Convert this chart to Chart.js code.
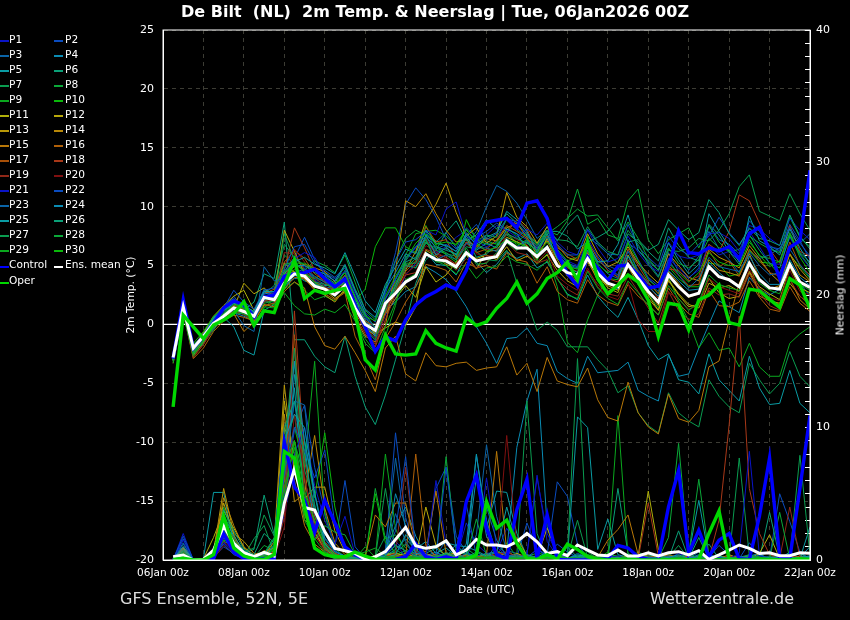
<!DOCTYPE html>
<html>
<head>
<meta charset="utf-8">
<title>De Bilt 2m Temp. & Neerslag</title>
<script src="https://cdn.jsdelivr.net/npm/chart.js@4"></script>
<style>
    body { margin: 0; background: #000; width: 850px; height: 620px; overflow: hidden; font-family: "DejaVu Sans", sans-serif; color: #fff; }
    canvas { position: absolute; left: 0; top: 0; }
    .txt { position: absolute; white-space: pre; }
    #title { left: 0; width: 870px; top: 2px; text-align: center; font-size: 16px; font-weight: bold; }
    #footLeft { left: 120px; top: 589px; font-size: 16px; color: #ddd; }
    #footRight { left: 650px; top: 589px; font-size: 16px; color: #ddd; }
    #rightTitle { left: 840px; top: 295px; font-size: 10.8px; transform: translate(-50%, -50%) rotate(-90deg); }
    .key { position: absolute; width: 9px; height: 2px; }
    .keyText { position: absolute; font-size: 10.6px; white-space: pre; }
</style>
</head>
<body>
<canvas id="chart" width="850" height="620"></canvas>
<div class="txt" id="title">De Bilt  (NL)  2m Temp. &amp; Neerslag | Tue, 06Jan2026 00Z</div>
<div class="txt" id="footLeft">GFS Ensemble, 52N, 5E</div>
<div class="txt" id="footRight">Wetterzentrale.de</div>
<div class="txt" id="rightTitle">Neerslag (mm)</div>
<div id="legend"></div>
<script>
// forecast hours, one point every 6 hours
const hours = [6,12,18,24,30,36,42,48,54,60,66,72,78,84,90,96,
    102,108,114,120,126,132,138,144,150,156,162,168,174,180,186,192,
    198,204,210,216,222,228,234,240,246,252,258,264,270,276,282,288,
    294,300,306,312,318,324,330,336,342,348,354,360,366,372,378,384];
const tickLabels = ['06Jan 00z','','08Jan 00z','','10Jan 00z','','12Jan 00z','','14Jan 00z','','16Jan 00z','','18Jan 00z','','20Jan 00z','','22Jan 00z'];
const zeroLine = [0, 0];
const zeroHours = [0, 384];

// 2m temperature, ensemble members
const tP1 = [-2.9,1.8,-2.1,-1.2,.2,1,1.8,1,.4,2.5,2.4,4,5,4.9,3.8,3.1,
    2.8,3.9,1.6,-.3,-1.4,.8,2.2,4.2,5.2,7,6.1,6.6,7.4,8,7.1,6.6,
    7,9.1,8.2,7.4,6.4,7.2,6,5.4,5,7.3,5.8,4.6,4.1,6.3,5.2,3.9,
    3.1,5.6,4.8,4,4.6,6.8,5.9,6.2,5.4,7.9,6.6,5.2,5.1,7.4,5.9,4.8];
const tP2 = [-2.8,2,-2.3,-1.4,-.2,1.3,2.4,1.3,.9,3,2.6,4.2,5.6,7.4,5.5,4.2,
    3.7,4.4,2.2,.6,-.6,2.9,6.1,10.2,11.6,10.6,9.1,7.2,6.4,8.2,7.4,7.9,
    8.6,8.1,7.7,7.2,6,7.7,6.3,5.2,4.9,6.9,5.7,5,4.6,7.2,5.5,4,
    3.3,6.1,4.5,3.9,4.8,8.4,7.2,6.8,6,8.8,7.9,6.7,6.2,8.5,7.1,5.5];
const tP3 = [-3,1.6,-1.9,-.8,.6,1.5,2.2,1.4,.2,2.2,2,3.6,4.1,4.5,3.9,3.4,
    3.2,3.7,1.2,-.5,-1.1,1.5,3.8,5.4,6.6,7.5,7,7.8,6.5,6.8,7.9,10,
    11.8,11.3,10.3,8.9,7.3,8,6.1,5,4.7,6.8,5.4,4.8,4.2,6.9,6.3,5.3,
    4.1,6.4,5.9,4.6,5.8,7.9,6.4,5.5,4.4,6.2,5.6,5.9,6.5,7.6,6.9,7.7];
const tP4 = [-2.9,1.7,-2.2,-1.5,-.1,.5,1,.7,.3,2,1.9,3.3,3.9,4,3.4,3.2,
    3,3.6,1.9,.4,-.9,1.2,1.9,2.8,3.2,4.9,4.4,3.8,2.8,1.5,-.2,-1.6,
    -3.3,-1.2,-1.1,-.3,-1.6,-1.8,-4,-4.6,-5,-2.7,-4.1,-4,-3.9,-3.2,-5.6,-6.1,
    -6.5,-2.6,-4.4,-4.2,-2,0,2,1.5,1,4,3,2.5,3,5,3.5,2.4];
const tP5 = [-2.7,1.4,-1.8,-1.3,-.4,.6,-.2,-2.2,-2.6,1.2,1.7,3,4.2,3.7,3.4,3.3,
    3.4,3.9,2.4,-.2,-1,1.1,3.3,5,4.8,6.2,5.1,5,4.2,5.9,5.3,4.4,
    5.1,6.2,5.6,6,4.8,5.3,3.9,2.6,2.1,4.2,2.4,1.4,.6,2.3,.4,-1.8,
    -3,-2.5,-4.7,-4.9,-5.9,-2.5,-4.7,-5.6,-6.5,-2.7,-5.4,-6.8,-6.7,-3.9,-6.7,-7.5];
const tP6 = [-3.1,1.2,-2.5,-1.1,.4,1.2,1.6,1.2,1.9,4.3,3.9,8.7,-1.3,-1.3,-2.7,-3.6,
    -4.1,-1,-4.4,-7,-8.5,-6,-3,0,3.5,5.5,6.3,7.8,8.8,7.1,7.6,8.9,
    8.1,9.4,8.6,7.7,6.9,8.3,7.1,8.4,9.3,7.4,6.8,6,5.2,7.7,7,6.2,
    5.4,8.2,6.7,5.7,5.4,8.5,7.6,6.2,5.1,7.6,6.3,5.2,4.8,7.5,6.1,5.3];
const tP7 = [-3,1.5,-2.6,-1.6,-.5,.9,2.1,1.5,.8,2.6,3.3,6.8,5.7,4.7,4,3.6,
    3,4.6,2.4,.8,-.9,1,3,5.1,4.8,7,6.3,6,5.8,7.3,6.2,5.5,
    5.4,6.3,3.5,2,-.5,.2,-.5,-1.9,-1.9,-1.9,-3,-3.9,-5.8,-5.2,-7.5,-8.6,
    -9.2,-5.8,-7.5,-8.2,-8.7,-4.7,-6.1,-7,-7.5,-3.3,-4.7,-5.9,-5,-2.3,-4.4,-5.3];
const tP8 = [-2.9,1.5,-2.1,-1.6,.1,1.1,1.9,1.6,1.1,2.9,2.6,5.9,5.1,4.6,5.4,5,
    4.4,5.9,3.6,1.2,.4,3.1,5.5,7.3,8,7.6,7.1,6.6,5.7,7.8,6.7,7.1,
    6.8,7.6,7,7.7,6.8,8,7.6,8.8,11.5,8.5,9,7.6,7.3,10.5,11.5,7.2,
    6,7.2,7.7,8.2,6.5,8.4,7,6.1,6.4,7.5,6.9,6.4,6.1,9.1,7.4,6.6];
const tP9 = [-3.2,1.1,-2.4,-1.4,.3,.9,1.7,1.5,-.3,1.4,2.2,3,3.6,2.9,2.1,2.4,
    2,3,.4,-1.6,-2.4,-1,1.6,5.9,7.7,7.9,8,7.5,6.7,8,7.1,7.6,
    7,8.3,7.5,6.7,5.1,6,3.2,-1.5,-2.4,.4,2.5,4,4.8,7,4.2,2.6,
    1.4,4,2,.3,-2,-.7,-2.2,-2,-3.6,-1.6,-3.6,-4.4,-4.4,-1.6,-.8,-.2];
const tP10 = [-2.8,1.4,-1.7,-.9,.5,.8,1.3,.9,.1,2.2,1.6,3.4,4.7,4.2,3.9,4.4,
    3.9,3.1,2,3,6.6,8.2,8.2,6.6,6.1,8.4,6.7,5.9,5.3,8.9,7.2,6.8,
    6.9,7.9,6.7,7.2,5.4,7.4,6.4,5.4,5.7,7.1,5,3.9,3.8,5.9,4.4,3.5,
    2.6,4.9,3.9,3.2,3.2,5.2,5.1,4.1,4.3,6.3,5.3,5.2,4.2,5.9,4.9,3.9];
const tP11 = [-2.8,1.5,-1.9,-.7,.7,1.6,2.4,2.9,1.2,2.8,2.5,8,6.2,4.3,3.6,3.1,
    2.9,3.7,1.7,.1,-.7,.9,2.2,3.3,2.3,4.9,3.6,4.2,5.3,5.9,4.7,6.2,
    6.3,7.4,7,6.7,5.6,7.3,5.5,4.1,3.6,6.1,4.3,3.1,2.7,5,3.8,2.5,
    1.2,3.8,2.6,1.7,1.4,3.5,3.1,3.3,2.8,4.5,3.2,2.6,2.1,4.9,3.1,2.7];
const tP12 = [-2.7,1.4,-2.6,-1.5,-.3,.4,1.4,3.5,2.6,3.1,2.3,4.1,4.5,3.8,3.2,2.9,
    2.2,2.8,.9,-.2,-.8,-.3,.2,-.1,1.5,6.3,5.8,5.1,4.8,6,5.6,5.9,
    5.5,6.6,5.4,5.8,5.2,5.9,4.6,3.7,3.2,5.3,3.9,3.3,2.9,4.9,3.4,2.2,
    1.2,3.7,2.5,1.5,1.7,3.9,2.7,2.2,2.4,4.4,2.8,2,1.8,3.5,2.4,1.7];
const tP13 = [-3,1.5,-2.4,-1.2,.2,.8,1.2,.9,.6,1.9,2.7,5.2,4.4,3.9,3,2.5,
    1.9,3,1,-.4,-.9,1,2.7,4.6,6.2,8.8,10.2,12,9.5,7.5,8.2,6.9,
    7.5,11.2,9.1,8.3,6.9,8.3,6.7,5.7,5.4,7.7,6,4.9,5.3,6.6,5.2,4.3,
    3.5,6,5,4,3.7,6.4,5.7,5.3,4.8,6.7,5.6,4.4,3.6,6,4.7,3.7];
const tP14 = [-2.9,1.7,-2.2,-1.5,-.2,.6,1.1,1,.5,2.2,2.4,4.3,4.9,5.1,4.8,4.5,
    3.6,3.1,.5,-1,-1.5,-.1,4.6,10.5,10,11.1,9.4,8,7,7.2,6.6,7.3,
    7.1,8.2,8.6,7.4,5.9,7.1,5.2,4.6,3.5,5.5,3.7,2.8,3.2,5.9,4,2.9,
    1.6,4.5,3.5,2.3,2.6,5.5,4.6,4.4,4.1,6,3.9,3,3.3,6,4.2,3.6];
const tP15 = [-3,1.4,-2.3,-1.3,0,.5,.9,-.6,.2,1.7,1.5,2.8,3.6,3.1,-.2,-1.8,
    -2.1,-1,-2.4,-3.9,-5.7,-2,-1,-4.2,-4.8,-2.4,-3.5,-3.6,-3.3,-3.2,-3.9,-3.7,
    -3.6,-1.9,-4.3,-3.3,-5.7,-2.8,-4.8,-5.1,-5.3,-3.7,-6.4,-7.9,-8.2,-4.9,-7.5,-8.7,
    -9.3,-5.9,-8,-8.3,-7.3,-3.6,-3.1,.4,3.5,5.4,2.4,2,1.7,3.9,2.1,1.3];
const tP16 = [-3.3,1,-2.9,-2,-.6,.3,.8,.6,.3,1.6,1.8,3,4,3.9,2.9,2.6,
    2.1,2.7,-1,-2.7,-4.7,-1.2,.2,1.9,3.2,5.1,4.9,4.6,3.6,5.3,4.8,5,
    4.7,6.1,5.5,5.3,3.5,4.9,2.8,2.1,1.8,3.8,2.5,1.9,1.6,3.4,2.4,1.7,
    .8,3.1,1.8,.9,.6,2.9,1.6,1.5,1.9,3.7,2.3,1.3,1.1,3.2,1.8,1.1];
const tP17 = [-2.8,1.6,-2,-1.2,.4,.9,1.6,1.3,.7,2.6,3,5.3,6.3,5.6,4.3,3.7,
    3.2,4.2,1.9,.3,-.2,2.2,3.6,4.5,5.4,8.3,7,7.2,5.6,7,6.1,6.4,
    7.2,8.4,7.9,7.3,6.5,7.5,6.5,6,5.5,7.1,5.6,4.6,4,6.4,5,3.6,
    2.6,5,4.2,3.3,3.4,6.3,4.9,5.4,4.1,6.4,5.4,4.4,4.1,7,5,4.2];
const tP18 = [-3.1,1.3,-2.8,-1.7,-.2,.7,1.5,1.2,.8,2.1,2.3,4.6,8.2,6.5,4.6,3.5,
    2.9,3.4,.7,-.8,-1.9,.4,2.6,4.2,4.4,6.4,6,5.7,5.1,7,6.7,6.3,
    6.5,7.8,8.9,8.1,6.2,7,5.8,4.8,4.5,6.2,4.7,3.9,3.6,5.5,4.5,3.4,
    2.2,4.7,4.6,3.7,4.1,6.8,6.2,7.9,11,10.5,8.6,6.4,5.2,8.4,6.2,5.8];
const tP19 = [-3,1.2,-2.7,-1.7,-.3,.8,1.3,.8,.4,2,2,6.1,6,4.6,3.7,3,
    2.7,3.1,1.3,-.6,-1.7,.9,3.1,4.9,5.3,7.3,5.9,5.5,4.6,5.6,4.8,5.3,
    6,7,6.1,5.9,5.2,5.5,3.8,3,2.5,4.6,3.4,2.6,2.4,4.1,2.8,1.4,
    .1,2.8,1.2,.4,.9,3.1,2.5,2.6,2.3,4.3,2.7,1.6,1.2,3.8,2.4,1.7];
const tP20 = [-2.9,1.4,-2.3,-1.3,.1,.6,1,.9,.5,2.2,1.9,3.8,6.4,5.3,4,3.2,
    2.8,3.2,1.1,-.3,-1.2,1.3,2.9,4.3,5,6.7,6.2,5.6,5,6.9,6,5.8,
    5.9,7.7,7.2,6.8,5.3,6.2,4.1,3.4,2.9,4.8,3.2,2.4,2.1,3.6,.4,-.6,
    -.6,2.7,2.2,1.3,1.6,3.9,3.2,2.9,2.6,4.7,3.1,2.3,2,4.6,2.8,2.5];
const tP21 = [-2.8,1.7,-2.1,-1.1,.3,1.2,2,1.7,1,2.6,2.7,4.4,5.6,6.1,5.7,4.3,
    3.9,4.5,2.6,.7,-.3,2.1,3.9,5.6,6.5,8,7.6,9.8,10.4,7.5,6.9,7.6,
    8.4,8,7.4,8.1,7.6,8.6,7,6.2,5.9,8,6.5,5.3,5.6,7.5,6.1,5,
    4.5,7,5.8,5.6,5.9,7.7,7.8,7.3,6.2,8.4,8.1,7.3,6.7,9,8,7.2];
const tP22 = [-2.9,1.6,-2,-1.1,.5,1.4,2.9,1.9,1.3,2.9,3.1,4.7,6.6,6.8,5.2,4.6,
    4,4.8,2.8,1,.2,2.6,5.4,7,7.2,7.9,6.4,6.8,6.2,7.6,8.5,7.2,
    7.7,9,8.7,7.6,6.6,7.9,6.8,5.9,5.9,8.1,6.9,6,5.9,8.5,6.6,5.7,
    4.9,7.5,6.4,5.9,6.8,7.5,9.1,7.8,6.8,8.1,7.6,6.6,6.4,8.2,6.9,5.8];
const tP23 = [-2.7,1.5,-2.1,-1.4,-.3,.7,1.2,-.1,-.6,4.9,3.7,3.9,4.4,4.7,4.1,3.6,
    3.3,4.1,1.7,-.1,-.9,2.2,3.8,5.7,6.6,7.2,5.5,5.9,5.5,6.9,6.5,6.5,
    6.2,7.3,6.6,7.1,6.5,7.4,5.7,5.1,4.8,6.6,5.2,4.3,3.9,6.2,4.6,3.5,
    2.8,5.5,4.2,3.1,3.9,5.7,4.9,4.7,4.5,6.1,5,4.2,4.4,6.4,5.1,4];
const tP24 = [-2.8,1.5,-1.8,-1,.6,1.2,1.8,1.5,1,2.7,2.4,4.1,5,5,4.6,4.3,
    3.7,5.1,3,1.3,.6,3,4.4,6,5.5,7.6,5.9,6.5,5.9,7.5,6.3,6.9,
    6.5,8.1,7.7,6.4,5.9,6.7,5,4.5,4.1,6.3,4.6,3.6,3,5.8,4.2,3.2,
    2.4,4.6,3.7,2.9,3,5.3,4.4,3.7,3.1,5.8,4.3,3.4,3.4,5.5,4,3.3];
const tP25 = [-3,1.3,-2.2,-.9,.5,1.2,2,1.6,1.1,2.8,2.8,4.3,5.3,5.7,5.1,4.8,
    4.3,6.1,4.1,2,1,3.4,4.9,6.4,6,8,6.9,6.7,6.2,7.7,6.8,7.4,
    7.8,9.6,8.9,7.9,6.1,7.7,5.6,4.9,4.4,6.9,5.3,5.4,6.8,9.3,6.3,5.4,
    4.6,6.9,5.5,4.3,5.1,9.4,7.9,6.6,5.3,9.2,7.1,6.6,5.9,8.1,6.5,5.1];
const tP26 = [-3,1.5,-2.3,-1.1,.2,.9,1.5,1.1,.6,2.4,2.3,4.5,5.7,5,4.4,4.1,
    3.5,5,2.9,.9,-.3,1.8,3.3,5.3,5.7,7.4,6.6,6.3,6,7.3,5.7,6,
    6.7,7.7,7.3,6.9,6.3,7.9,7.9,7.5,6.4,7,7.4,7.9,9,7,7.2,6.3,
    6.8,8.9,8,7.2,7.8,10.6,9.5,7.7,6.7,8.2,7.3,7.1,6.7,9.3,7.5,6.4];
const tP27 = [-3.1,1.4,-2.4,-1.2,.1,.8,1.3,.9,.7,2.1,2.2,7.7,5.4,4.4,3.6,3.4,
    3.1,3.5,2,.2,-.6,1.6,3,4.8,5.6,6.9,6.5,6.1,5.5,6.6,6.4,7.6,
    7.4,8.9,8,7.5,6.7,7.9,7.2,7.1,6.6,8.3,7,6.2,5.9,8,6.8,5.1,
    4,6.3,6.2,6.5,7.3,7.1,8,9.4,11.7,12.7,9.6,9.2,8.8,11.1,9.4,8];
const tP28 = [-2.9,1.3,-2.5,-1.5,-.1,.5,1,.9,.5,1.8,2,5.1,5.3,4.5,3.5,3.1,
    2.4,3.5,1.5,-.5,-1.3,1.4,3.5,5.2,5.2,7.2,5.3,5.3,4.7,6.5,5.1,5.2,
    6.1,6.9,6.3,7,6.2,7.7,8.3,9,9.8,9.2,9.3,8.2,7.1,8.7,7.3,5.6,
    4.6,6.5,5.2,4.8,5.5,7.3,6.5,6.3,5.7,7.2,5.8,5.6,5.3,7.8,6,4.9];
const tP29 = [-3.3,.9,-2.7,-1.3,.4,.9,1.7,1.4,-.1,1.5,1.4,2.7,1.6,.9,.8,1.3,
    1,1.7,.3,-1.2,-2.4,-.2,1.9,3.8,4.3,6.1,5.4,5,4.3,5.1,3.9,4.8,
    4.9,5.8,5.3,5.1,4.6,5.4,3.9,2.5,2.2,4.5,3.1,2.2,1.7,3.7,2.7,1.6,
    .8,3.3,2.2,1.2,1.9,4.2,3.4,3.1,2.9,5,3.5,2.9,2.6,5.3,3.4,2.9];
const tP30 = [-2.9,1.3,-1.6,-.6,.7,1.4,1.9,1.3,.9,2.3,2.5,4.4,5.2,5.2,4.7,4,
    3.4,4.4,2.3,.7,.3,2.4,4.1,5.5,6.9,7.7,6.8,7,6.8,8.1,6.9,6.2,
    6.6,7.2,6.9,6.6,6,7,5.9,4.9,4.7,6.5,5.1,4.4,4.7,6.9,5.4,3.8,
    3.1,5.2,4.4,3.6,4.4,6.1,5.3,5,5,7,5.9,4.9,5.4,7.7,5.7,4.4];

// precipitation, ensemble members
const pP1 = [0,2,0,0,.3,1.6,.9,.2,0,.1,.2,3.4,7.2,4.8,2.6,1.1,
    .3,.1,0,0,.1,.4,1.4,.6,.2,.1,.5,.3,.1,2.8,1.2,.5,
    .6,2.4,1.1,.4,6.4,1.4,.3,.2,0,.1,.3,.1,0,.2,.1,0,
    0,.1,.5,.2,0,.1,.2,.1,0,.3,.1,0,.1,.4,.1,.2];
const pP2 = [.1,1.6,0,0,.2,1,.5,.1,.1,0,.3,5,9.8,11.7,7,3.6,
    1,6,1,.1,0,.5,9.6,3.2,.6,.2,5.4,7,1.8,.6,.2,.1,
    1.2,.4,.2,2.8,.8,.4,5.9,4.8,1.2,.2,.1,0,.1,.3,.2,.1,
    0,.2,.1,.4,0,.2,1.1,.4,.1,1.3,.3,.1,5,2.9,.6,.1];
const pP3 = [.1,1.3,0,0,.4,2.2,1.4,.3,0,.1,.4,6,12,6,3.3,1.7,
    .7,.3,.1,0,.1,.8,7.7,2.2,.4,.9,.3,1.5,.4,.2,1.9,8.7,
    3.3,.7,.5,.1,.2,.3,.1,.1,.5,.2,0,.1,.2,.1,0,.1,
    .1,.3,.1,.1,.6,.2,.1,.3,.2,.4,.2,0,.1,.3,.1,.1];
const pP4 = [.1,1,0,0,.3,1.4,1.1,.2,.1,.2,1,4.4,14,8.9,2,1,
    .2,.1,0,0,.2,.6,2.6,4,1.8,.3,.6,.2,1.2,.3,6.3,1.8,
    .5,.6,8.5,12,14.4,2.5,.5,.1,.3,.4,.1,.2,.1,.3,0,.1,
    .2,.1,.2,.1,.4,0,.3,.1,.2,.3,.5,0,.2,.1,.2,1];
const pP5 = [0,.9,0,.1,5.1,5.1,1.1,.2,.1,.6,.8,6.2,13,4,2,.9,
    .3,.2,0,.1,.1,.3,.8,1.6,.8,1.4,.5,.9,.3,.2,8,2.4,
    5.2,5.1,2,.3,.1,.2,.4,.2,10.8,10,.8,3.1,.4,.2,.1,0,
    .1,.2,.1,.4,4.5,.2,.1,.2,.1,.3,.2,.1,.1,.6,.1,2.5];
const pP6 = [0,.7,0,.1,.4,2.8,1.4,.5,.8,4.9,1.9,7.5,15,3.8,1,.4,
    .1,.1,0,0,.2,.4,.6,1.2,.4,.5,.9,.3,.8,.5,.2,.4,
    .7,.3,.2,.1,.1,.1,.3,.1,.2,.1,.2,.1,5.4,.5,.1,.2,
    .3,.1,2.2,.1,.3,1.2,.1,.2,.1,.2,.1,3.6,.2,.2,.5,.1];
const pP7 = [0,.5,0,0,.6,3.2,.9,.3,1.6,2.6,.5,8.4,11,5.2,3,.7,
    .2,0,.1,0,.3,1.8,.4,.7,.5,.2,.1,.6,.2,.9,.3,.2,
    .1,.2,.4,12,2,.1,.2,.5,15.2,.6,.1,.2,.1,.2,0,.1,
    .4,.2,1.1,.1,0,.2,.1,.1,7.7,.3,.2,.1,.1,.2,7.9,.4];
const pP8 = [0,.4,0,.1,.3,4,1.6,.6,.2,1.1,.7,5.1,9,6,2,.8,
    .4,.1,.2,.1,5.4,1.6,1.9,.9,.2,.1,.3,7.8,.7,.4,.3,.1,
    .4,1.3,.2,.3,.5,.4,.1,.1,.2,.2,.1,.4,.3,.1,.6,.2,
    .1,1.7,8.8,.4,6.1,.4,.1,.2,.1,.4,.1,.3,.2,.1,.2,.3];
const pP9 = [0,.5,0,0,.2,2.4,.7,.3,.1,.3,1.2,6.9,10,7,15,3.4,
    .9,.2,.1,1,.2,8,2.4,.4,.8,.3,.2,.1,.4,.1,.1,.3,
    .1,.1,.3,.2,.1,.2,.1,0,.1,.4,.2,.1,10.9,.3,.1,.1,
    .2,.2,.1,.2,.1,.1,.3,.1,.2,.1,.3,.2,.1,.2,.1,.1];
const pP10 = [0,.3,0,0,.3,1.9,1.1,.4,.2,.4,.9,5.6,7.1,9,4.7,9.6,
    4,.8,.2,.1,5,1.3,.6,.2,.1,.3,.2,.5,.1,.3,.2,.4,
    .2,.1,.2,.1,.3,.1,.2,.1,.3,.1,.1,.6,.2,.1,.2,.1,
    .1,.4,.1,.1,.2,.1,.1,.2,.1,.2,.1,.1,0,.1,.1,.2];
const pP11 = [0,.6,0,.1,1.7,3.7,2.4,1,.3,.5,.5,10,8,4.5,2.1,.8,
    .3,.1,.2,0,.1,.2,.3,.5,.2,.4,.1,.3,.6,.1,.1,.2,
    .3,.1,.5,.2,.1,.2,.1,.1,0,.1,.2,.1,.2,.1,.3,5.2,
    .8,.1,.2,.1,.1,.3,.1,.1,.2,.1,.5,1.9,.1,.1,.1,.2];
const pP12 = [0,.7,0,0,.8,4.3,1.9,.5,.2,.7,.6,12,7,3,2.5,1.2,
    .5,.2,0,.1,.1,.4,.5,.3,.2,4,1.1,.3,.2,.4,.1,.3,
    .2,.6,1.7,.3,.2,2.4,.4,.1,.2,.1,.1,.3,.2,.1,.1,.2,
    .1,.3,.1,.1,.1,.1,.3,.1,.1,.3,.1,.2,.1,.1,.2,.1];
const pP13 = [0,.8,0,.1,.6,5.4,2,1.4,.5,.3,1.4,13.2,6.5,4.6,5.5,5.5,
    2.2,.6,.1,.1,.2,.6,.2,.4,1.1,.3,.4,.2,.1,.3,.2,.5,
    .1,.3,.2,.4,.1,.1,.2,.2,.1,.1,.3,.1,.1,.2,.1,.4,
    .2,.1,.1,.3,.2,.1,.1,.4,.1,.1,.2,.1,.2,.1,.3,.1];
const pP14 = [0,.9,0,0,.5,4.7,2.6,.9,.4,.6,.9,11,4.4,5,9.4,3.9,
    1.3,.4,.1,.2,.3,.4,.3,.1,.2,.5,.2,.3,.4,.2,.1,.2,
    .4,.2,.1,.2,.3,.2,.1,.1,.1,.2,.1,.1,.2,.3,.1,.2,
    .1,.2,.3,.1,.1,.1,.2,.1,.1,.2,.1,.1,.1,.2,.1,.1];
const pP15 = [0,1,0,0,.3,3,1.5,.6,.3,.4,.7,9,6,2.6,1.2,.6,
    .2,.1,.2,.3,3.4,2.5,4.3,4.3,1,.6,5.2,.5,.3,.2,.1,.3,
    8.2,.7,.2,.1,.2,.3,.1,.2,.1,.3,.2,1.5,2.3,3.4,.4,.1,
    .2,.1,.3,.1,.2,.1,.1,.2,.1,.1,.1,.2,.1,.3,.1,.2];
const pP16 = [0,.8,0,.1,.4,2.6,1.7,.4,.2,.3,.6,7.2,9,3.4,1.8,.9,
    .4,.2,.1,.1,.2,.3,.4,.2,8,1.1,.3,.2,.4,.3,.2,.1,
    .2,.3,.4,.2,.1,.1,.3,.1,.2,.1,.1,.2,.1,.2,.1,.1,
    .1,.4,.2,.1,.3,.1,.1,.3,.2,.1,.1,.2,.1,.2,.1,.1];
const pP17 = [0,.6,0,0,.2,2.1,1.2,.3,.2,.2,.5,6,17,6,2.8,1,
    .3,.1,.1,0,.1,.2,.3,.2,.3,.1,.2,.1,.3,.2,.3,.1,
    .6,.4,.2,.3,.1,.2,.1,.1,.1,.2,.1,.1,.2,.1,.1,.3,
    .2,.1,.2,.2,.1,.3,.1,.2,.1,.1,.2,.1,.1,.2,.1,.1];
const pP18 = [0,.5,0,0,.2,1.7,.9,.3,.1,.2,.4,4,18.8,7.5,3.3,1.4,
    .5,.2,.1,.1,.2,.3,.2,.4,.5,.2,.1,.3,.1,.2,.1,.2,
    .3,.1,.2,.1,.2,.1,.2,.1,.1,.1,.2,.1,.1,.1,.1,4.3,
    .3,.2,.1,.3,.1,.1,3,10.2,18.4,5.4,2,.4,.1,.3,.2,.2];
const pP19 = [0,.4,0,0,.1,1.4,.7,.2,.1,.1,.3,3.2,16,5,2.4,.8,
    .2,.1,0,.1,.1,.2,.5,7,.6,.2,.3,.2,.1,.3,.2,.1,
    .4,.6,.2,.1,.1,.2,.1,.1,.1,.1,.1,.2,.1,.1,.2,.1,
    .1,.1,.1,.1,.2,.1,.1,.3,.1,.2,.1,.1,.1,4,.2,.1];
const pP20 = [0,.3,0,0,.1,1.1,.5,.1,0,.1,.2,2.5,11,6.4,2,.6,
    .2,0,.1,0,.1,.1,.2,.4,.1,.1,.2,.1,.1,.2,.1,.3,
    .2,9.4,1,.2,.1,.1,.1,.1,.1,.2,.1,.1,.1,.1,.1,.2,
    .1,.1,.1,.1,.1,.1,.2,.1,.1,.1,.2,.1,.1,.3,.1,.1];
const pP21 = [0,1.5,0,0,.2,1.3,.6,.2,.1,.2,.3,4.8,8,10,5.6,3,
    1.2,3.3,.4,.1,.1,.4,1.2,.3,.2,.1,6,1.2,.4,.1,.3,6.2,
    1,.3,.2,.4,6.2,2,.5,.2,.2,.1,.1,.2,.3,.1,.1,.1,
    .2,.1,.1,.2,.1,.3,.2,.1,.5,8.2,.3,.2,.2,.1,.1,.1];
const pP22 = [0,1.8,0,0,.3,1.2,.4,.1,.1,.1,.3,6.5,10,8.3,6.2,8.3,
    2.7,.7,.2,.1,.2,.3,2.2,7.8,.8,.1,.2,7,.9,4.2,.3,.5,
    .2,.3,.1,.2,.8,.3,1.2,.6,.2,.1,.2,.1,.1,.2,.1,.1,
    .1,.2,.3,.1,.1,.4,.2,.1,.1,.2,.2,.1,.2,.1,.1,.1];
const pP23 = [0,1.2,0,.1,.3,1.7,1,.3,.1,.2,.8,7,12,11.7,4,2,
    .7,.2,.1,0,.1,.5,3.5,1.4,.3,.2,.3,.4,.1,.5,.2,4,
    1.5,.3,.4,.1,.3,.1,.2,.1,.1,.3,.1,.1,.1,.1,.2,.1,
    .1,.3,.1,.2,.2,.1,.1,.2,.1,.1,.4,.1,.1,.1,.2,.3];
const pP24 = [.1,1,0,.1,.7,2.9,1.3,.4,.2,.3,1.1,8,15,9,5.1,1.6,
    .6,.3,.1,.1,.1,.3,5,2.6,.5,.4,.2,.3,.2,1.2,7.9,3,
    .4,.2,.1,.4,.2,.6,.1,.1,.3,.1,.2,.1,.1,.1,.1,.2,
    .2,.1,.1,.2,.3,.1,.1,.1,.2,.2,.1,.1,.3,.1,.1,.2];
const pP25 = [.1,.8,0,0,.5,3.4,1.8,.7,.3,.4,1.6,9,11,10,5,1.2,
    .4,.1,.1,.2,.1,.2,.4,1.9,1,.9,1.1,1.3,1.1,1,.7,.3,
    .6,4,1.3,.2,.1,.3,.2,.1,.4,.2,.1,.2,.1,.2,.1,.1,
    .1,.2,.4,.1,.2,.1,.1,.2,.1,.1,.1,.2,.1,.1,.2,.3];
const pP26 = [0,.7,0,.1,.3,3.8,2.2,.8,.4,2,1.3,10,12,8,3.6,1.3,
    .4,.2,.2,.1,.2,.3,1.1,.7,.3,.3,.2,.5,.3,.2,.6,.2,
    .1,.2,.3,.2,.1,.2,.1,1,.2,.3,.1,.1,.2,.1,.1,.3,
    .4,.1,.3,.1,1.7,.1,.3,.1,.2,.1,.1,.2,.1,.2,.1,.2];
const pP27 = [0,.6,0,0,.4,3,1.5,.6,.9,3.4,1.8,8.5,16,6.8,4.2,.9,
    .3,.1,.1,.1,.2,5.4,.8,.3,.2,.3,.1,.2,.4,.1,.2,.1,
    .3,.1,.1,.3,.2,.1,.2,.2,3,.2,.1,.2,.1,.1,.1,.1,
    .1,.1,.2,.5,.1,.2,.1,.1,.1,.3,.2,.1,.1,.1,.1,.1];
const pP28 = [0,.5,0,.1,.2,2.5,1,.5,.3,.5,1.7,7,9,4.2,1.5,2.6,
    2.1,1.9,.4,.1,.1,.2,.3,.2,.1,.2,.3,.4,.1,.2,3.1,.3,
    .2,.1,.2,.1,.1,.2,.4,.1,.2,.1,.3,.1,.1,.4,.1,.1,
    .2,.1,.1,.1,.1,.3,.1,.2,.1,.1,.1,.1,3.6,.1,.1,.1];
const pP29 = [0,.4,0,0,.3,2,.8,.3,.1,.2,.9,5.5,8.5,3,1.6,.6,
    .2,.1,.4,.6,.9,.3,.1,.2,.1,.1,.2,.1,.2,.1,.1,.1,
    .1,.2,.1,.1,.2,.1,.1,.1,.1,.1,.2,.1,.1,.1,.1,.1,
    .1,.1,.2,.1,.1,.1,.1,.1,.2,.1,.1,.1,.1,.1,.1,.1];
const pP30 = [0,.3,0,0,.2,1.5,1.2,.4,.2,.3,.8,4.6,9,5,3,1.1,
    .4,.2,.6,.2,.2,.1,.2,.3,.2,.1,.1,.2,.1,.1,.2,.2,
    .1,.1,.1,.2,.1,.1,.1,.2,.1,.1,.1,.1,.1,.2,.1,.1,
    .1,.1,.1,.1,.1,.1,.1,.1,.1,.1,.2,.1,.1,.1,.1,.1];

// control, ensemble mean and operational run
const tControl = [-2.9,2.1,-2,-1,.1,1.4,2,1.65,.65,2.3,2.5,4.1,4.3,4.4,4.7,3.9,
    3.2,3.85,1.65,-.2,-2.3,-1.05,-1.4,.4,1.65,2.35,2.8,3.35,3,4.6,7.2,8.7,
    8.85,9,8.2,10.3,10.5,9,6.05,4.35,3.25,5.75,4.8,3.7,4.95,5.05,4.2,3.1,
    3.25,4.9,7.95,6.1,6,6.5,6.25,6.6,5.6,7.7,8.25,6.3,3.9,6.55,7.1,13.1];
const tMean = [-2.8,1.5,-2,-1,.1,.7,1.4,1.1,.7,2.3,2.1,3.5,4.3,4.1,3.25,3,
    2.5,3.3,1.4,0,-.5,1.8,2.65,3.6,4.1,6,5.5,5.4,4.9,6.1,5.4,5.6,
    5.75,7.1,6.5,6.5,5.75,6.55,5,4.4,4.2,5.6,4.35,3.5,3.2,5.1,3.9,2.8,
    1.9,4.2,3.2,2.4,2.65,4.9,4.05,3.8,3.2,5.2,3.8,3.1,3,5.1,3.6,3.15];
const tOper = [-7,.8,-.2,-1.2,-.05,.37,.94,1.93,-.05,1.16,1,3.35,5.47,2.2,2.9,2.64,
    2.9,3.06,.94,-3,-3.87,-.9,-2.5,-2.6,-2.5,-.53,-1.6,-2,-2.26,.6,-.1,.23,
    1.37,2.2,3.6,1.8,2.6,3.9,4.4,5.3,3.77,7,3.9,2.6,3.35,4.2,3.6,2.07,
    -1.04,1.8,1.65,-.47,2.07,2.5,3.35,.15,-.05,3,2.86,2.13,1.45,3.9,3.35,1.37];
const pControl = [.1,.1,0,0,.1,2,.6,.1,.05,.1,.05,8.9,5.5,4.5,2.1,4.5,
    2.8,1,.4,.05,0,0,.05,.25,1.25,.25,.05,.25,.05,4.4,6.4,2.4,
    .4,.1,3.8,6.1,.1,3.4,.05,0,0,0,0,.1,1.1,.9,.25,.05,
    .05,4,6.75,.5,2.25,.25,1.5,2,.1,.05,3.3,7.7,.25,.1,5.4,10.9];
const pMean = [.25,.38,0,.05,.75,2.57,1.26,.55,.25,.58,.3,4.3,6.9,3.97,3.77,2.14,
    .88,.7,.5,.05,.25,.63,1.56,2.47,1.08,.88,1,1.46,.38,.75,1.56,1.13,
    1.13,1,1.38,2,1.38,.5,.63,.33,1.13,.75,.38,.33,.75,.3,.3,.55,
    .3,.55,.63,.38,.7,.05,.38,.75,1.13,.88,.5,.55,.33,.33,.55,.5];
const pOper = [.05,.13,0,0,.4,3.3,.9,.3,.08,.05,.4,8.2,7.7,4,.9,.4,
    .25,.25,.6,.3,.05,0,0,0,0,0,0,0,0,.05,.4,4.4,
    2.4,3,1.25,.1,.05,.4,.05,1.2,.8,.25,.05,0,0,0,0,0,
    0,0,0,0,.05,2,3.7,.05,0,0,0,0,0,0,.1,.05];

const tempMembers = [tP1,tP2,tP3,tP4,tP5,tP6,tP7,tP8,tP9,tP10,tP11,tP12,tP13,tP14,tP15,
    tP16,tP17,tP18,tP19,tP20,tP21,tP22,tP23,tP24,tP25,tP26,tP27,tP28,tP29,tP30];
const rainMembers = [pP1,pP2,pP3,pP4,pP5,pP6,pP7,pP8,pP9,pP10,pP11,pP12,pP13,pP14,pP15,
    pP16,pP17,pP18,pP19,pP20,pP21,pP22,pP23,pP24,pP25,pP26,pP27,pP28,pP29,pP30];

// the colours run through 20 steps, P21 starts over
const memberColors = ['#0a14c8','#0a4cc0','#0a64a8','#0a8cb4','#0a9ca4','#0aa078','#0a9c50','#0aa838','#0aa81e','#0ab80a',
    '#b0b00a','#b8a80a','#b89808','#b88808','#b87808','#b06008','#a85008','#a83818','#902818','#801010'];
const controlColor = '#0000ff';
const meanColor = '#ffffff';
const operColor = '#00d800';

function makeLine(label, xs, values, axis, color, width, order) {
    return {
        label: label,
        data: values.map((v, i) => ({ x: xs[i], y: v })),
        yAxisID: axis,
        borderColor: color,
        borderWidth: width,
        pointRadius: 0,
        tension: 0,
        order: order
    };
}

const datasets = [];
datasets.push(makeLine('0', zeroHours, zeroLine, 'y', '#ffffff', 1.3, 9));
for (let i = 0; i < 30; i++) {
    const color = memberColors[i % 20];
    // higher order is drawn first, so P30 ends up on top of P1
    const order = 5 + (30 - i) * 0.01;
    datasets.push(makeLine('P' + (i + 1), hours, tempMembers[i], 'y', color, 1, order));
    datasets.push(makeLine('P' + (i + 1) + ' rain', hours, rainMembers[i], 'y2', color, 1, order));
}
datasets.push(makeLine('Control', hours, tControl, 'y', controlColor, 3.4, 3));
datasets.push(makeLine('Control rain', hours, pControl, 'y2', controlColor, 3.4, 3));
datasets.push(makeLine('Ens. mean', hours, tMean, 'y', meanColor, 3, 2));
datasets.push(makeLine('Ens. mean rain', hours, pMean, 'y2', meanColor, 3, 2));
datasets.push(makeLine('Oper', hours, tOper, 'y', operColor, 3.4, 1));
datasets.push(makeLine('Oper rain', hours, pOper, 'y2', operColor, 3.4, 1));

// white frame round the plot
const framePlugin = {
    id: 'frame',
    afterDatasetsDraw(chart) {
        const a = chart.chartArea;
        const ctx = chart.ctx;
        ctx.save();
        ctx.strokeStyle = '#fff';
        ctx.lineWidth = 1;
        ctx.strokeRect(a.left, a.top, a.right - a.left, a.bottom - a.top);
        ctx.restore();
    }
};

Chart.defaults.font.family = '"DejaVu Sans", sans-serif';
Chart.defaults.color = '#fff';

new Chart(document.getElementById('chart'), {
    type: 'line',
    data: { datasets: datasets },
    plugins: [framePlugin],
    options: {
        responsive: false,
        animation: false,
        devicePixelRatio: 1,
        layout: { padding: { left: 123, right: 0, top: 30, bottom: 23 } },
        plugins: { legend: { display: false }, title: { display: false }, tooltip: { enabled: false } },
        scales: {
            x: {
                type: 'linear',
                min: 0,
                max: 384,
                afterFit(s) { s.height = 37; },
                title: { display: true, text: 'Date (UTC)', color: '#fff', font: { size: 10.3 }, padding: { top: 2, bottom: 0 } },
                ticks: {
                    stepSize: 24,
                    autoSkip: false,
                    maxRotation: 0,
                    padding: 7,
                    color: '#fff',
                    font: { size: 10.5 },
                    callback: v => tickLabels[v / 24]
                },
                grid: { color: '#3c3c34', drawTicks: false },
                border: { color: '#fff', dash: [4, 4] }
            },
            y: {
                position: 'left',
                min: -20,
                max: 25,
                afterFit(s) { s.width = 40; },
                title: { display: true, text: '2m Temp. (°C)', color: '#fff', font: { size: 10.7 }, padding: { top: 2, bottom: 0 } },
                ticks: { stepSize: 5, padding: 9, color: '#fff', font: { size: 11 } },
                grid: { color: '#3c3c34', drawTicks: false },
                border: { color: '#fff', dash: [4, 4] }
            },
            y2: {
                position: 'right',
                min: 0,
                max: 40,
                afterFit(s) { s.width = 40; },
                ticks: {
                    stepSize: 1,
                    autoSkip: false,
                    padding: 11,
                    color: '#fff',
                    font: { size: 11 },
                    callback: v => (v % 10 === 0 ? v : '')
                },
                grid: { drawOnChartArea: false, drawTicks: true, tickLength: -5, color: '#fff' },
                border: { color: '#fff' }
            }
        }
    }
});

// legend in two columns, left of the plot
const legendNames = [];
const legendColors = [];
for (let i = 0; i < 30; i++) {
    legendNames.push('P' + (i + 1));
    legendColors.push(memberColors[i % 20]);
}
legendNames.push('Control', 'Ens. mean', 'Oper');
legendColors.push(controlColor, meanColor, operColor);

const legendBox = document.getElementById('legend');
legendNames.forEach((name, i) => {
    const col = i % 2;
    const row = Math.floor(i / 2);
    const top = row < 15 ? 39 + row * 15 : (row === 15 ? 264.5 : 280.5);
    const key = document.createElement('div');
    key.className = 'key';
    key.style.left = (col ? 54 : 0) + 'px';
    key.style.top = (top + 1) + 'px';
    key.style.background = legendColors[i];
    const text = document.createElement('div');
    text.className = 'keyText';
    text.style.left = (col ? 65 : 9) + 'px';
    text.style.top = (top - 6.5) + 'px';
    text.textContent = name;
    legendBox.appendChild(key);
    legendBox.appendChild(text);
});
</script>
</body>
</html>
